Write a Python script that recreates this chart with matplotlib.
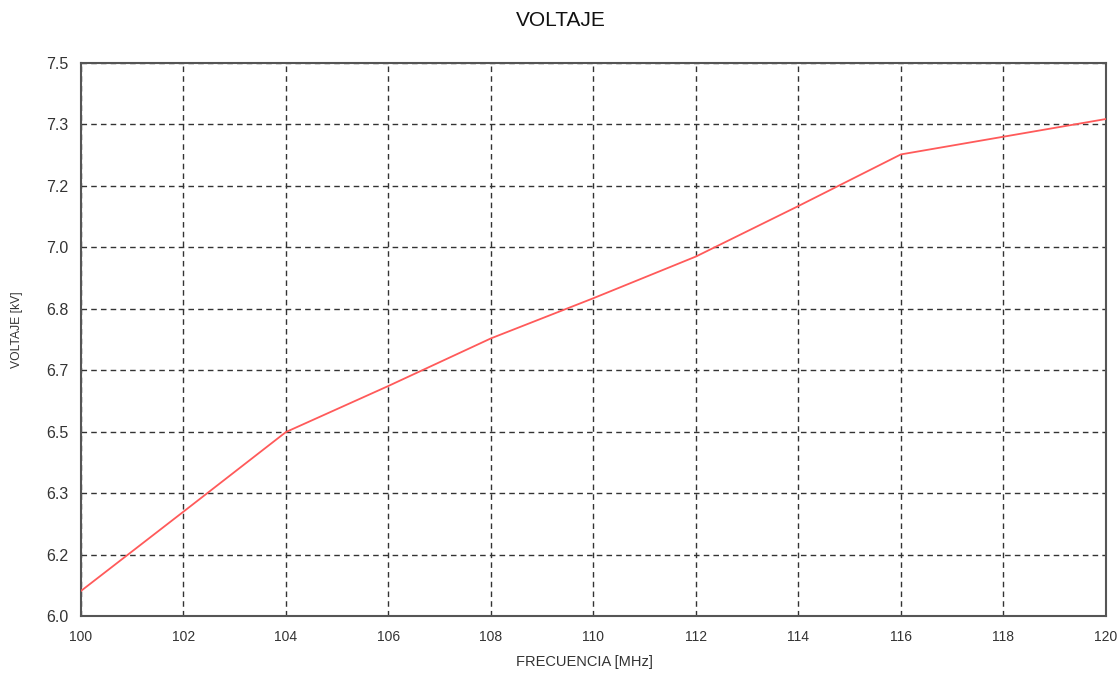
import numpy as np
import matplotlib.pyplot as plt
from matplotlib.ticker import FormatStrFormatter

plt.rcParams["font.family"] = ["Liberation Sans", "DejaVu Sans"]

# Data
frecuencia = [100, 102, 104, 106, 108, 110, 112, 114, 116, 118, 120]
voltaje = [6.068, 6.283, 6.499, 6.624, 6.753, 6.862, 6.975, 7.112, 7.252, 7.300, 7.348]

x_ticks = np.arange(100, 121, 2)
y_ticks = np.linspace(6.0, 7.5, 10)

fig = plt.figure(figsize=(11.17, 6.73), dpi=100)
ax = fig.add_axes([0.0725, 0.0847, 0.9175, 0.8217])

ax.plot(frecuencia, voltaje, color="#FF5A5A", lw=1.3, zorder=3)

ax.set_xlim(100, 120)
ax.set_ylim(6.0, 7.5)
ax.set_xticks(x_ticks)
ax.set_yticks(y_ticks)
ax.yaxis.set_major_formatter(FormatStrFormatter("%.1f"))
ax.tick_params(length=0, colors="#333333")
ax.tick_params(axis="y", labelsize=11.5, pad=9)
ax.tick_params(axis="x", labelsize=10, pad=10)

ax.grid(True, color="#333333", lw=1.0, ls=(0, (4, 3)))
for s in ax.spines.values():
    s.set_color("#555555")
    s.set_linewidth(1.5)

fig.text(0.502, 0.9695, "VOLTAJE", ha="center", va="center", fontsize=15, color="#111111")
fig.text(0.523, 0.0168, "FRECUENCIA [MHz]", ha="center", va="center", fontsize=10.5, color="#333333")
fig.text(0.0155, 0.5097, "VOLTAJE [kV]", ha="center", va="center", rotation=90, fontsize=8.7, color="#333333")

fig.savefig("out.png", dpi=100, facecolor="white")
